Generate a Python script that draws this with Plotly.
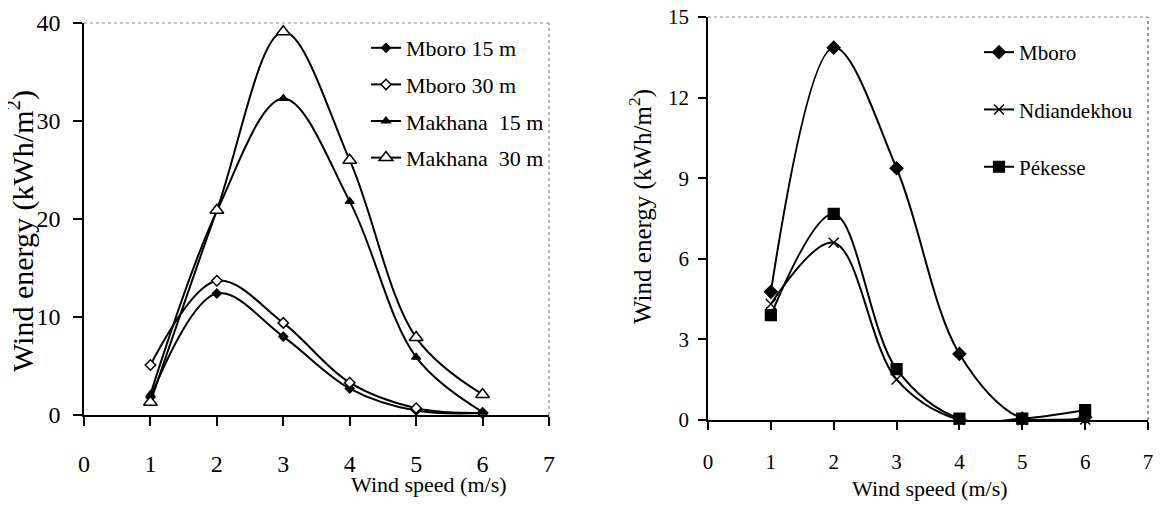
import plotly.graph_objects as go

wind_speed = [1, 2, 3, 4, 5, 6]
x_ticks = [0, 1, 2, 3, 4, 5, 6, 7]

# Left panel (kWh/m²)
mboro_15 = [1.8, 12.4, 8.0, 2.7, 0.45, 0.2]
mboro_30 = [5.1, 13.7, 9.4, 3.3, 0.7, 0.2]
makhana_15 = [2.1, 20.8, 32.3, 21.8, 5.9, 0.3]
makhana_30 = [1.3, 20.9, 39.1, 26.0, 7.9, 2.1]
left_yticks = [0, 10, 20, 30, 40]

# Right panel (kWh/m²)
mboro = [4.77, 13.86, 9.37, 2.46, 0.05, 0.1]
ndiandekhou = [4.32, 6.6, 1.51, 0.0, 0.0, 0.02]
pekesse = [3.9, 7.67, 1.89, 0.05, 0.05, 0.37]
right_yticks = [0, 3, 6, 9, 12, 15]

FONT = "Liberation Serif, Times New Roman, serif"
OFF = 8  # page body margin
W, H = 1161 - OFF, 513 - 2 * OFF


def px_x(p):
    return (p - OFF) / W


def px_y(p):
    return 1 - (p - OFF) / H


fig = go.Figure()


def add(y, name, symbol, size, xa, ya, legend, fill="black", lw=1.2):
    fig.add_trace(go.Scatter(
        x=wind_speed, y=y, name=name, mode="lines+markers",
        line=dict(color="black", width=2, shape="spline", smoothing=1),
        marker=dict(symbol=symbol, size=size, color=fill,
                    line=dict(color="black", width=lw)),
        xaxis=xa, yaxis=ya, legend=legend, legendgroup=name,
        cliponaxis=False))


add(mboro_15, "Mboro 15 m", "diamond", 7, "x", "y", "legend")
add(mboro_30, "Mboro 30 m", "diamond", 8, "x", "y", "legend", fill="white", lw=1.5)
add(makhana_15, "Makhana  15 m", "triangle-up", 8, "x", "y", "legend")
add(makhana_30, "Makhana  30 m", "triangle-up", 12, "x", "y", "legend", fill="white", lw=1.5)

add(mboro, "Mboro", "diamond", 10, "x2", "y2", "legend2")
add(ndiandekhou, "Ndiandekhou", "x-thin", 10, "x2", "y2", "legend2", lw=1.5)
add(pekesse, "Pékesse", "square", 11, "x2", "y2", "legend2")

axis_common = dict(showline=True, linecolor="black", linewidth=1.5,
                   ticks="outside", tickcolor="black", tickwidth=1.5,
                   showgrid=False, zeroline=False, ticklabeloverflow="allow",
                   automargin=False)

fig.update_layout(
    width=W, height=H, margin=dict(l=0, r=0, t=0, b=0, autoexpand=False),
    paper_bgcolor="white", plot_bgcolor="white",
    font=dict(family=FONT, color="black"),
    xaxis=dict(axis_common, domain=[px_x(84), px_x(549)], range=[0, 7],
               tickvals=x_ticks, ticklen=9, ticklabelstandoff=17,
               tickfont=dict(size=24, family=FONT), anchor="y"),
    yaxis=dict(axis_common, domain=[px_y(415), px_y(23)], range=[0, 40],
               tickvals=left_yticks, ticklen=9, ticklabelstandoff=8,
               tickfont=dict(size=24, family=FONT), anchor="x"),
    xaxis2=dict(axis_common, domain=[px_x(708), px_x(1148)], range=[0, 7],
                tickvals=x_ticks, ticklen=8, ticklabelstandoff=14,
                tickfont=dict(size=21, family=FONT), anchor="y2"),
    yaxis2=dict(axis_common, domain=[px_y(420), px_y(17)], range=[0, 15],
                tickvals=right_yticks, ticklen=8, ticklabelstandoff=5,
                tickfont=dict(size=21, family=FONT), anchor="x2"),
    legend=dict(x=358 / W, y=1 - 19 / H, xanchor="left", yanchor="top",
                font=dict(size=22, family=FONT), tracegroupgap=5,
                bgcolor="rgba(0,0,0,0)"),
    legend2=dict(x=971 / W, y=1 - 24 / H, xanchor="left", yanchor="top",
                 font=dict(size=21, family=FONT), tracegroupgap=27,
                 bgcolor="rgba(0,0,0,0)"),
    showlegend=True,
)

# dotted plot-area borders (top and right)
for xr, yr, col in [("x domain", "y domain", "#888"), ("x2 domain", "y2 domain", "#555")]:
    fig.add_shape(type="line", xref=xr, yref=yr, x0=0, x1=1, y0=1, y1=1,
                  line=dict(color="#888", width=1, dash="dot"))
    fig.add_shape(type="line", xref=xr, yref=yr, x0=1, x1=1, y0=0, y1=1,
                  line=dict(color=col, width=1.2, dash="dot"))


# axis titles (figure pixel coordinates)
def title(text, x, y, size, angle=0):
    fig.add_annotation(text=text, xref="paper", yref="paper",
                       x=x / W, y=1 - y / H, xanchor="center", yanchor="middle",
                       showarrow=False, textangle=angle,
                       font=dict(size=size, family=FONT))


title("Wind speed (m/s)", 421, 476, 22)
title("Wind speed (m/s)", 922, 480, 22)
title("Wind energy (kWh/m<sup>2</sup>)", 13, 223, 30, -90)
title("Wind energy (kWh/m<sup>2</sup>)", 632, 199, 25, -90)

fig.write_html("out.html")
